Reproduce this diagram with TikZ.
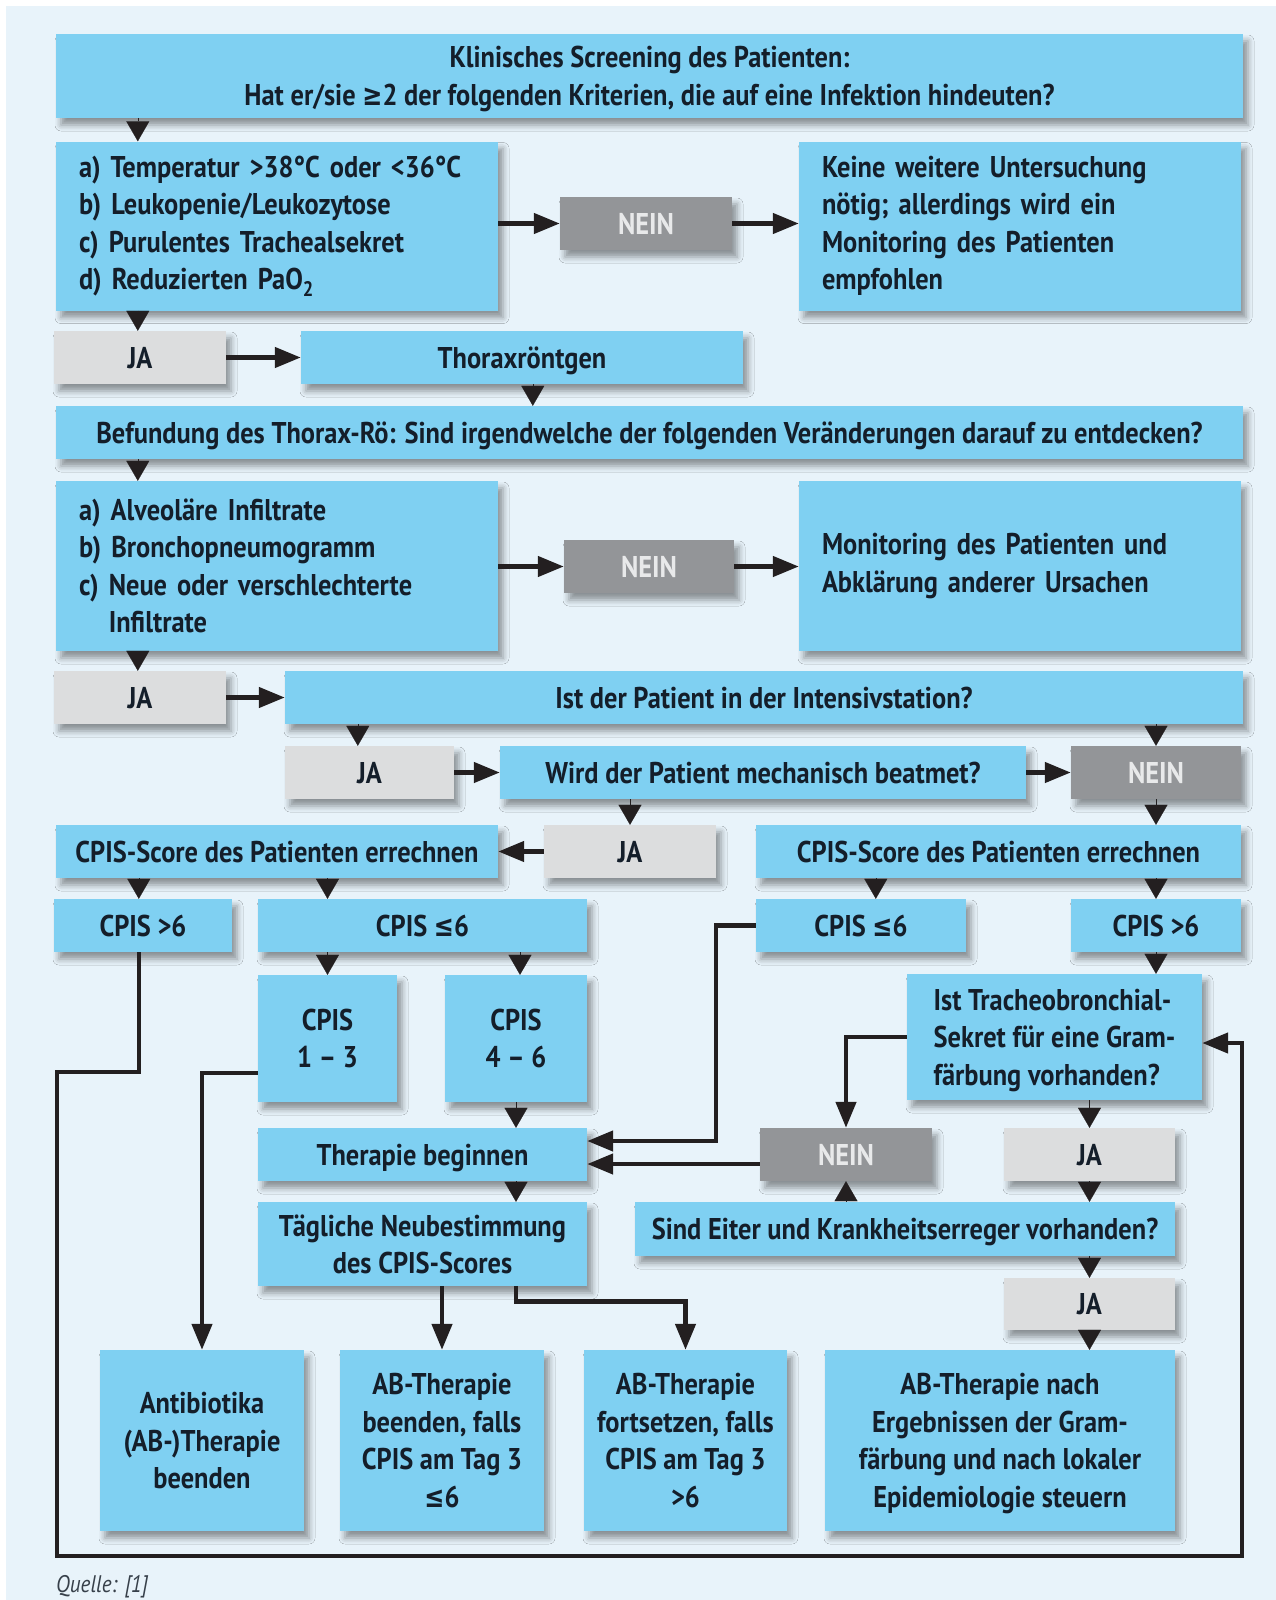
\documentclass[tikz,border=0pt]{standalone}
\usepackage{fontspec}
\setmainfont{PT Sans}[FakeStretch=0.88]
\newfontfamily\dvsym{DejaVu Sans}[FakeStretch=0.8]
\newcommand\gesym{{\dvsym\bfseries ≥}}
\newcommand\lesym{{\dvsym\bfseries ≤}}
\usetikzlibrary{arrows.meta,shadows.blur,calc}
\definecolor{bg}{RGB}{232,243,250}
\definecolor{boxblue}{RGB}{127,208,242}
\definecolor{jagray}{RGB}{220,221,222}
\definecolor{neingray}{RGB}{147,149,152}
\definecolor{ink}{RGB}{20,30,42}
\definecolor{neintext}{RGB}{232,233,234}
\definecolor{lineblack}{RGB}{35,31,32}
\tikzset{
  base/.style={rectangle, inner sep=0pt, font=\fontsize{30}{37.5}\selectfont\bfseries, text=ink,
    blur shadow={shadow xshift=5pt, shadow yshift=-7pt, shadow blur radius=6pt, shadow opacity=40}},
  bbox/.style={base, text depth=0pt, fill=boxblue, align=center},
  jabox/.style={base, text depth=0pt, fill=jagray, minimum height=53pt},
  neinbox/.style={base, text depth=0pt, fill=neingray, text=neintext, minimum height=53pt},
  lbox/.style={base, fill=boxblue, align=left, inner xsep=23pt, text width=#1},
  conn/.style={draw=lineblack, line width=4.5pt},
  arr/.style={conn, -{Triangle[length=26pt,width=20pt]}},
  tri/.style={draw=lineblack, line width=0.2pt, -{Triangle[length=20pt,width=23pt]}},
}
\begin{document}
\begin{tikzpicture}[x=1pt,y=-1pt]
\useasboundingbox (0,0) rectangle (1276,1600);
\fill[white] (0,0) rectangle (1276,1600);
\fill[bg] (6,6) rectangle (1276,1600);

\node[bbox, minimum width=1187pt, minimum height=84pt] (top) at (649.5,76)
  {Klinisches Screening des Patienten:\\Hat er/sie \gesym2 der folgenden Kriterien, die auf eine Infektion hindeuten?};
\node[lbox=396pt, minimum width=442pt, minimum height=169pt] (crit1) at (277,226)
  {\mbox{a) Temperatur >38°C oder <36°C}\\\mbox{b) Leukopenie/Leukozytose}\\\mbox{c) Purulentes Trachealsekret}\\\mbox{d) Reduzierten PaO\textsubscript{2}}};
\node[neinbox, minimum width=172pt] (nein1) at (646,223.5) {NEIN};
\node[lbox=396pt, minimum width=442pt, minimum height=169pt] (keine) at (1020,226)
  {\mbox{Keine weitere Untersuchung}\\\mbox{nötig; allerdings wird ein}\\\mbox{Monitoring des Patienten}\\empfohlen};
\node[jabox, minimum width=172pt] (ja1) at (140,357.5) {JA};
\node[bbox, minimum width=442pt, minimum height=53pt] (thorax) at (522,357.5) {Thoraxröntgen};
\node[bbox, minimum width=1187pt, minimum height=53pt] (befund) at (649.5,432.5)
  {Befundung des Thorax-Rö: Sind irgendwelche der folgenden Veränderungen darauf zu entdecken?};
\node[lbox=396pt, minimum width=442pt, minimum height=170pt] (crit2) at (277,566)
  {\mbox{a) Alveoläre Infiltrate}\\\mbox{b) Bronchopneumogramm}\\\mbox{c) Neue oder verschlechterte}\\\mbox{\hphantom{c) }Infiltrate}};
\node[neinbox, minimum width=170pt] (nein2) at (649,566.5) {NEIN};
\node[lbox=396pt, minimum width=442pt, minimum height=170pt] (monit) at (1020,566)
  {\mbox{Monitoring des Patienten und}\\\mbox{Abklärung anderer Ursachen}};
\node[jabox, minimum width=172pt] (ja2) at (140,697.5) {JA};
\node[bbox, minimum width=958pt, minimum height=53pt] (icu) at (764,697.5) {Ist der Patient in der Intensivstation?};
\node[jabox, minimum width=169pt] (ja3) at (369.5,772.5) {JA};
\node[bbox, minimum width=526pt, minimum height=53pt] (wird) at (763,772.5) {Wird der Patient mechanisch beatmet?};
\node[neinbox, minimum width=170pt] (nein3) at (1156,772.5) {NEIN};
\node[bbox, minimum width=442pt, minimum height=53pt] (cpisL) at (277,851.5) {CPIS-Score des Patienten errechnen};
\node[jabox, minimum width=172pt] (ja4) at (630,851.5) {JA};
\node[bbox, minimum width=485pt, minimum height=53pt] (cpisR) at (998.5,851.5) {CPIS-Score des Patienten errechnen};
\node[bbox, minimum width=178pt, minimum height=53pt] (gt6L) at (143,925.5) {CPIS >6};
\node[bbox, minimum width=329pt, minimum height=53pt] (le6L) at (422.5,925.5) {CPIS \lesym6};
\node[bbox, minimum width=210pt, minimum height=53pt] (le6R) at (861,925.5) {CPIS \lesym6};
\node[bbox, minimum width=170pt, minimum height=53pt] (gt6R) at (1156,925.5) {CPIS >6};
\node[bbox, minimum width=139pt, minimum height=127pt] (c13) at (327.5,1038.5) {CPIS\\1 – 3};
\node[bbox, minimum width=142pt, minimum height=127pt] (c46) at (516,1038.5) {CPIS\\4 – 6};
\node[bbox, align=left, minimum width=295pt, minimum height=126pt] (tracheo) at (1054.5,1037)
  {Ist Tracheobronchial-\\Sekret für eine Gram-\\färbung vorhanden?};
\node[bbox, minimum width=329pt, minimum height=53pt] (ther) at (422.5,1154.5) {Therapie beginnen};
\node[neinbox, minimum width=172pt] (nein4) at (846,1154.5) {NEIN};
\node[jabox, minimum width=171pt] (ja5) at (1089.5,1154.5) {JA};
\node[bbox, minimum width=329pt, minimum height=84pt] (taegl) at (422.5,1244) {Tägliche Neubestimmung\\des CPIS-Scores};
\node[bbox, minimum width=540pt, minimum height=54pt] (eiter) at (905,1229) {Sind Eiter und Krankheitserreger vorhanden?};
\node[jabox, minimum width=171pt, minimum height=52pt] (ja6) at (1089.5,1304) {JA};
\node[bbox, minimum width=204pt, minimum height=181pt] (ab1) at (202,1440.5) {Antibiotika\\(AB-)Therapie\\beenden};
\node[bbox, minimum width=204pt, minimum height=181pt] (ab2) at (442,1440.5) {AB-Therapie\\beenden, falls\\CPIS am Tag 3\\\lesym6};
\node[bbox, minimum width=203pt, minimum height=181pt] (ab3) at (685.5,1440.5) {AB-Therapie\\fortsetzen, falls\\CPIS am Tag 3\\>6};
\node[bbox, minimum width=350pt, minimum height=181pt] (ab4) at (1000,1440.5) {AB-Therapie nach\\Ergebnissen der Gram-\\färbung und nach lokaler\\Epidemiologie steuern};
\node[anchor=base west, inner sep=0pt, font=\fontsize{24}{28}\selectfont\itshape, text=ink!85] (src) at (56,1592) {Quelle: [1]};

% triangles
\draw[tri] ([xshift=82pt]top.south west) -- ([xshift=82pt]top.south west |- crit1.north);
\draw[tri] ([xshift=82pt]top.south west |- crit1.south) -- ([xshift=82pt]top.south west |- ja1.north);
\draw[tri] ([xshift=232pt]thorax.south west) -- ([xshift=232pt]thorax.south west |- befund.north);
\draw[tri] ([xshift=82pt]befund.south west) -- ([xshift=82pt]befund.south west |- crit2.north);
\draw[tri] ([xshift=82pt]befund.south west |- crit2.south) -- ([xshift=82pt]befund.south west |- ja2.north);
\draw[tri] ([xshift=73pt]icu.south west) -- ([xshift=73pt]icu.south west |- ja3.north);
\draw[tri] (nein3.north |- icu.south) -- (nein3.north);
\draw[tri] (ja4.north |- wird.south) -- (ja4.north);
\draw[tri] (nein3.south) -- (nein3.south |- cpisR.north);
\draw[tri] ([xshift=83pt]cpisL.south west) -- ([xshift=83pt]cpisL.south west |- gt6L.north);
\draw[tri] (c13.north |- cpisL.south) -- (c13.north |- le6L.north);
\draw[tri] ([xshift=120pt]le6R.north west |- cpisR.south) -- ([xshift=120pt]le6R.north west);
\draw[tri] (gt6R.north |- cpisR.south) -- (gt6R.north);
\draw[tri] (c13.north |- le6L.south) -- (c13.north);
\draw[tri] ([xshift=4pt]c46.north |- le6L.south) -- ([xshift=4pt]c46.north);
\draw[tri] (gt6R.south) -- (gt6R.south |- tracheo.north);
\draw[tri] (c46.south) -- (c46.south |- ther.north);
\draw[tri] (c46.south |- ther.south) -- (c46.south |- taegl.north);
\draw[tri] (ja5.north |- tracheo.south) -- (ja5.north);
\draw[tri] (ja5.south) -- (ja5.south |- eiter.north);
\draw[tri] (ja6.north |- eiter.south) -- (ja6.north);
\draw[tri] (ja6.south) -- (ja6.south |- ab4.north);
\draw[tri] (nein4.south |- eiter.north) -- (nein4.south);

% horizontal arrows
\draw[arr] (crit1.east |- nein1) -- (nein1.west);
\draw[arr] (nein1.east) -- (nein1.east -| keine.west);
\draw[arr] (crit2.east |- nein2) -- (nein2.west);
\draw[arr] (nein2.east) -- (nein2.east -| monit.west);
\draw[arr] (ja1.east) -- (ja1.east -| thorax.west);
\draw[arr] (ja2.east) -- (ja2.east -| icu.west);
\draw[arr] (ja3.east) -- (ja3.east -| wird.west);
\draw[arr] (wird.east) -- (wird.east -| nein3.west);
\draw[arr] (ja4.west) -- (ja4.west -| cpisL.east);

% elbow connectors
\coordinate (loopA) at (57,1072);
\coordinate (loopB) at (1242,1556);
\draw[arr] ([xshift=-4pt]gt6L.south) |- (loopA) |- (loopB) |- ([yshift=-6pt]tracheo.east);
\draw[arr] ([yshift=-34.5pt]c13.west) -| (ab1.north);
\draw[arr] (ab2.north |- taegl.south) -- (ab2.north);
\draw[arr] ([xshift=93.5pt]taegl.south) -- ++(0,15.5) -| (ab3.north);
\draw[arr] (le6R.west) -- ++(-40,0) |- ([yshift=13.5pt]ther.east);
\draw[arr] ([yshift=-9.5pt]nein4.west) -- ([yshift=-9.5pt]nein4.west -| ther.east);
\draw[arr] (tracheo.west) -| (nein4.north);
\end{tikzpicture}
\end{document}
